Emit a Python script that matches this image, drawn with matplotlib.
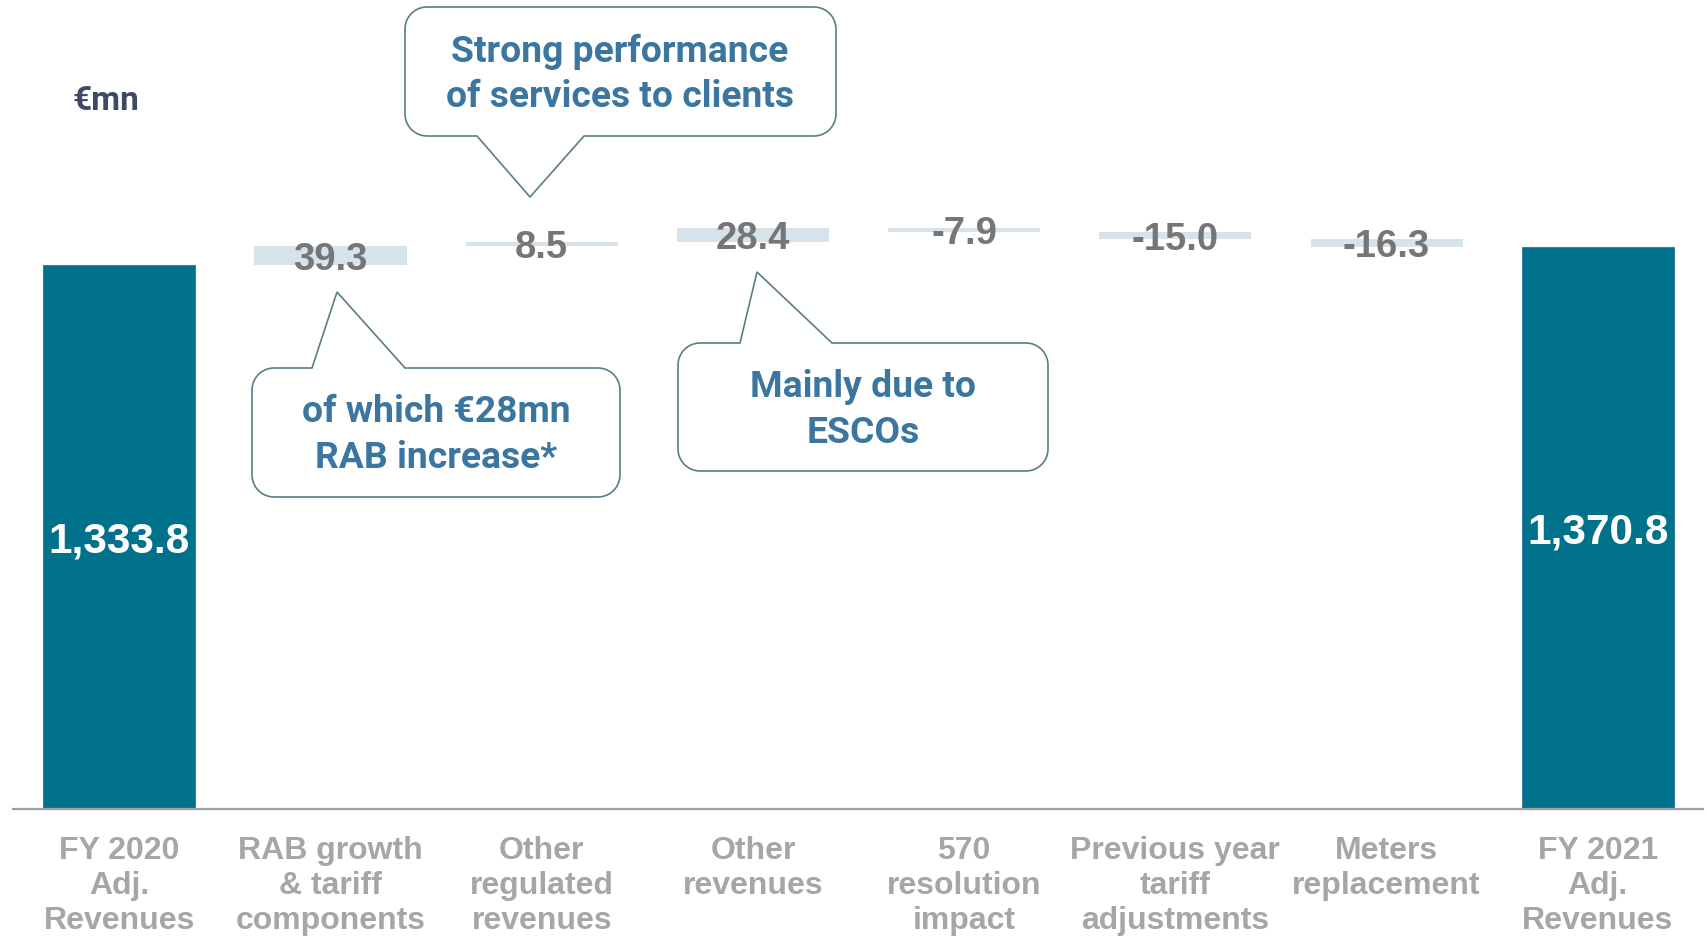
import numpy as np
import matplotlib.pyplot as plt
from matplotlib.patches import Polygon

# Revenue bridge FY 2020 -> FY 2021 (EUR mn)
categories = ["FY 2020\nAdj.\nRevenues", "RAB growth\n& tariff\ncomponents",
              "Other\nregulated\nrevenues", "Other\nrevenues",
              "570\nresolution\nimpact", "Previous year\ntariff\nadjustments",
              "Meters\nreplacement", "FY 2021\nAdj.\nRevenues"]
start_total = 1333.8
deltas = [39.3, 8.5, 28.4, -7.9, -15.0, -16.3]
end_total = 1370.8
axis_floor = 212.0  # truncated value axis

notes = ["Strong performance\nof services to clients",
         "of which €28mn\nRAB increase*",
         "Mainly due to\nESCOs"]

W, H = 1708, 938
TEAL = "#00718a"
LIGHT = "#d6e3eb"
VALUE_GREY = "#767676"
LABEL_GREY = "#a6a6a6"
NOTE_BLUE = "#3a76a0"
NOTE_EDGE = "#587e86"
ARIAL = ["Liberation Sans", "DejaVu Sans"]

fig = plt.figure(figsize=(W / 100, H / 100), dpi=100)
ax = fig.add_axes([0, 0, 1, 1])
ax.set_xlim(-0.565, 7.522)
ax.set_ylim(-53.8, 1880.2)
ax.axis("off")

# totals
x_tot = [0, len(categories) - 1]
totals = [start_total, end_total]
ax.bar(x_tot, [t - axis_floor for t in totals], bottom=axis_floor, width=0.72,
       color=TEAL, edgecolor="#3f7fa3", linewidth=0.8, zorder=2)
for x, t in zip(x_tot, totals):
    ax.annotate(f"{t:,.1f}", (x, (t + axis_floor) / 2), xytext=(0, -3),
                textcoords="offset points", ha="center", va="center",
                color="white", fontsize=30.5, fontweight="bold",
                family=ARIAL, zorder=3)

# floating steps
levels = start_total + np.cumsum([0] + deltas)
x_steps = np.arange(1, len(deltas) + 1)
bottoms = np.minimum(levels[:-1], levels[1:])
heights = np.abs(deltas)
ax.bar(x_steps, heights, bottom=bottoms, width=0.72, color=LIGHT, zorder=2)
for x, b, h, d in zip(x_steps, bottoms, heights, deltas):
    ax.annotate(f"{d:.1f}", (x, b + h / 2), xytext=(0, -3),
                textcoords="offset points", ha="center", va="center",
                color=VALUE_GREY, fontsize=27.5, fontweight="bold",
                family=ARIAL, zorder=3)

# baseline
ax.axhline(axis_floor, xmin=13 / W, xmax=1703 / W, color="#a0a0a0", lw=1.6, zorder=3)

# category labels
for i, lab in enumerate(categories):
    ax.text(i, 1 - 835.5 / H, lab, transform=ax.get_xaxis_transform(),
            ha="center", va="top", color=LABEL_GREY, fontsize=23,
            fontweight="bold", linespacing=1.22, family=ARIAL)

fig.text(106 / W, 1 - 100.5 / H, "€mn", ha="center", va="center", color="#3c4a66",
         fontsize=24, fontweight="bold", family=["Roboto", "DejaVu Sans"])


def bubble(box, base, tip, side, r=22):
    """Rounded callout box with a pointed tail, in pixel coords (y down)."""
    x0, y0, x1, y1 = box
    def arc(cx, cy, a0, a1):
        t = np.radians(np.linspace(a0, a1, 12))
        return list(zip(cx + r * np.cos(t), cy + r * np.sin(t)))
    pts = arc(x0 + r, y0 + r, 180, 270)
    if side == "top":
        pts += [(base[0], y0), tip, (base[1], y0)]
    pts += arc(x1 - r, y0 + r, 270, 360)
    pts += arc(x1 - r, y1 - r, 0, 90)
    if side == "bottom":
        pts += [(base[1], y1), tip, (base[0], y1)]
    pts += arc(x0 + r, y1 - r, 90, 180)
    verts = [(px / W, 1 - py / H) for px, py in pts]
    fig.add_artist(Polygon(verts, closed=True, facecolor="white",
                           edgecolor=NOTE_EDGE, linewidth=1.2,
                           transform=fig.transFigure, zorder=5))


bubbles = [((405, 7, 836, 136), (477, 584), (530, 197), "bottom", (620, 74.5)),
           ((252, 368, 620, 497), (312, 405), (337, 292), "top", (436, 435)),
           ((678, 343, 1048, 471), (740, 832), (757, 272), "top", (863, 410))]
for note, (box, base, tip, side, centre) in zip(notes, bubbles):
    bubble(box, base, tip, side)
    fig.text(centre[0] / W, 1 - centre[1] / H, note, ha="center", va="center",
             color=NOTE_BLUE, fontsize=26.8, fontweight="bold", linespacing=1.33,
             family=["Roboto", "DejaVu Sans"], zorder=6)

fig.savefig("out.png", dpi=100)
